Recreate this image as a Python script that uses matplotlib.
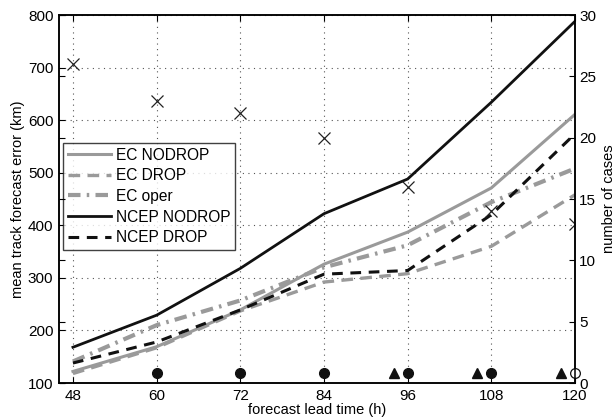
import matplotlib.pyplot as plt

plt.rcParams['font.family'] = ['Liberation Sans', 'DejaVu Sans']

# forecast lead times (h)
lead = [48, 60, 72, 84, 96, 108, 120]

# mean track forecast error (km)
ec_nodrop = [122, 169, 239, 326, 387, 471, 611]
ec_drop = [118, 167, 237, 292, 308, 360, 458]
ec_oper = [141, 210, 257, 320, 362, 444, 508]
ncep_nodrop = [168, 229, 318, 422, 488, 634, 788]
ncep_drop = [138, 178, 239, 307, 314, 420, 574]

# number of cases
n_cases = [26, 23, 22, 20, 16, 14, 13]

# significance markers (number-of-cases axis)
sig_dot_lead = [60, 72, 84, 96, 108]
sig_open_lead = [120]
sig_tri_lead = [94, 106, 118]
sig_level = 0.8

fig = plt.figure(figsize=(6.12, 4.19), dpi=100)
ax = fig.add_axes([0.0964, 0.0859, 0.8431, 0.8783])
ax2 = ax.twinx()

gray = '#9a9a9a'
ax.plot(lead, ec_nodrop, color=gray, lw=2.2, label='EC NODROP')
ax.plot(lead, ec_drop, color=gray, lw=2.4, ls=(0, (3.5, 2.2)), label='EC DROP')
ax.plot(lead, ec_oper, color=gray, lw=3.0, ls=(0, (3, 1.5, 0.6, 1.5)), label='EC oper')
ax.plot(lead, ncep_nodrop, color='#111111', lw=2.0, label='NCEP NODROP')
ax.plot(lead, ncep_drop, color='#111111', lw=2.2, ls=(0, (3.5, 2.5)), label='NCEP DROP')

ax.set_xlim(46, 120)
ax.set_ylim(100, 800)
ax.set_xticks(lead)
ax.set_yticks(range(100, 801, 100))
ax.grid(True, ls=(0, (1, 4)), color='#555555', lw=0.8)
ax.tick_params(direction='in', length=4, labelsize=11, top=True, pad=4)
ax.set_xlabel('forecast lead time (h)', fontsize=10.5, labelpad=0)
ax.set_ylabel('mean track forecast error (km)', fontsize=10.5, labelpad=2)

ax2.plot(lead, n_cases, ls='none', marker='x', ms=9, mew=0.9, color='#222222')
ax2.plot(sig_dot_lead, [sig_level] * len(sig_dot_lead), ls='none', marker='o',
         ms=7, color='#111111')
ax2.plot(sig_open_lead, [sig_level] * len(sig_open_lead), ls='none', marker='o',
         ms=7, mfc='white', mec='#111111', mew=0.9, clip_on=False)
ax2.plot(sig_tri_lead, [sig_level] * len(sig_tri_lead), ls='none', marker='^',
         ms=7.5, color='#111111')
ax2.set_ylim(0, 30)
ax2.set_yticks(range(0, 31, 5))
ax2.yaxis.set_ticks_position('both')
ax2.yaxis.set_label_position('right')
ax2.tick_params(direction='in', length=4, labelsize=11, labelleft=False, pad=3)
ax2.set_ylabel('number of cases', fontsize=10.5, labelpad=4)

for a in (ax, ax2):
    for s in a.spines.values():
        s.set_linewidth(1.1)

leg = ax.legend(loc='upper left', bbox_to_anchor=(0.008, 0.652), fontsize=11.2,
                frameon=True, fancybox=False, edgecolor='#111111',
                handlelength=2.8, handletextpad=0.3, borderpad=0.3,
                labelspacing=0.36, borderaxespad=0)
leg.get_frame().set_linewidth(1.0)
leg.set_zorder(5)

fig.savefig('out.png', dpi=100)
